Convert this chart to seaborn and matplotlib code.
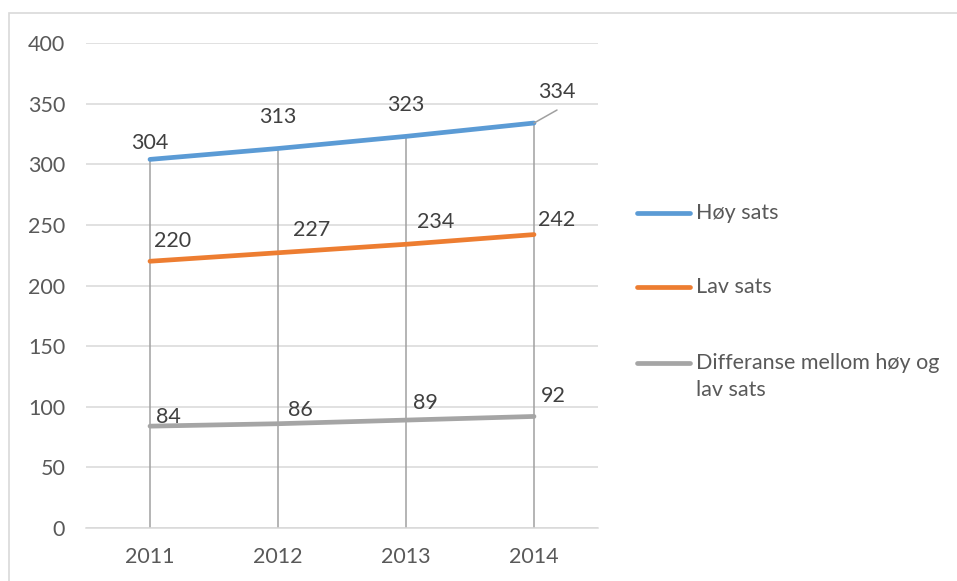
import matplotlib
matplotlib.use('Agg')
import matplotlib.pyplot as plt
import seaborn as sns
import pandas as pd
from matplotlib.patches import Rectangle
from matplotlib.lines import Line2D

# data
years = [2011, 2012, 2013, 2014]
hoy_sats = [304, 313, 323, 334]
lav_sats = [220, 227, 234, 242]
differanse = [84, 86, 89, 92]
series_names = ['Høy sats', 'Lav sats', 'Differanse mellom høy og\nlav sats']

colors = ['#5B9BD5', '#ED7D31', '#A5A5A5']

# label offsets in pixels (dx, dy) for each series / point
label_offsets = [
    [(0, 16), (0, 31), (0, 31), (23, 31)],
    [(23, 20), (34, 23), (30, 22), (23, 15)],
    [(18, 9), (22, 14), (19, 17), (19, 20)],
]

df = pd.DataFrame({
    'year': years * 3,
    'value': hoy_sats + lav_sats + differanse,
    'series': [series_names[0]] * 4 + [series_names[1]] * 4 + [series_names[2]] * 4,
})

sns.set_style('white')
plt.rcParams['font.family'] = ['Lato', 'DejaVu Sans']
FS = 15.5

W, H = 957, 581
fig = plt.figure(figsize=(W / 100, H / 100), dpi=100)
ax = fig.add_axes([86 / W, 53 / H, 512 / W, 485 / H])

# drop lines from top series to axis
for x, top in zip(years, hoy_sats):
    ax.plot([x, x], [0, top], color='#A0A0A0', lw=1.1, zorder=1)

sns.lineplot(data=df, x='year', y='value', hue='series', palette=colors,
             lw=3.4, ax=ax, zorder=3, solid_capstyle='round', legend=False)

all_series = [hoy_sats, lav_sats, differanse]
for vals, offs in zip(all_series, label_offsets):
    for i, (x, v) in enumerate(zip(years, vals)):
        dx, dy = offs[i]
        ax.annotate(str(v), xy=(x, v), xytext=(dx, dy), textcoords='offset pixels',
                    ha='center', va='center', fontsize=FS, color='#404040', zorder=4)

# leader line for last top label
ax.annotate('', xy=(years[-1], hoy_sats[-1]), xytext=(23, 13), textcoords='offset pixels',
            arrowprops=dict(arrowstyle='-', color='#A0A0A0', lw=1.1, shrinkA=0, shrinkB=0))

ax.set_xlim(2010.5, 2014.5)
ax.set_ylim(0, 400)
ax.set_yticks(range(0, 401, 50))
ax.set_xticks(years)
ax.set_xticklabels([str(y) for y in years])
ax.grid(axis='y', color='#D9D9D9', lw=1.1)
ax.set_axisbelow(True)
for s in ['top', 'right', 'left']:
    ax.spines[s].set_visible(False)
ax.spines['bottom'].set_color('#D9D9D9')
ax.spines['bottom'].set_linewidth(1.1)
ax.tick_params(axis='both', length=0, labelsize=FS, labelcolor='#595959')
ax.tick_params(axis='y', pad=15)
ax.tick_params(axis='x', pad=14)
ax.set_xlabel('')
ax.set_ylabel('')

# legend drawn by hand so the handle sits on the first text line
legend_rows = [213, 287, 363]
for name, col, yr in zip(series_names, colors, legend_rows):
    fy = 1 - yr / H
    fig.add_artist(Line2D([637 / W, 690 / W], [fy, fy], transform=fig.transFigure,
                          color=col, lw=3.4, solid_capstyle='round'))
    fig.text(696 / W, 1 - (yr - 10) / H, name, ha='left', va='top', fontsize=FS,
             color='#595959', linespacing=1.45)

# chart border
fig.patches.append(Rectangle((9 / W, -0.1), 1.2, (H - 13) / H + 0.1,
                             transform=fig.transFigure, fill=False,
                             edgecolor='#D9D9D9', lw=1.2))

fig.savefig('out.png', dpi=100)
